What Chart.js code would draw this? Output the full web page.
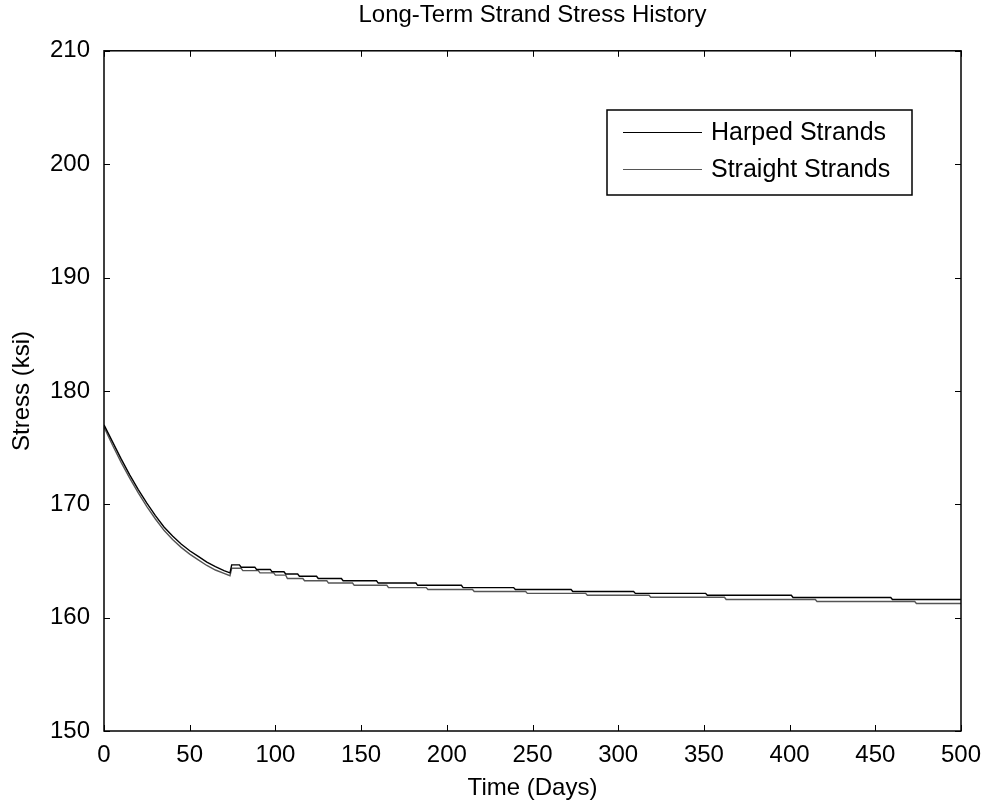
<!DOCTYPE html>
<html>
<head>
<meta charset="utf-8">
<script src="https://cdn.jsdelivr.net/npm/chart.js@4/dist/chart.umd.min.js"></script>
<style>
  html, body { margin: 0; padding: 0; background: #fff; }
  #wrap { width: 986px; height: 803px; }
</style>
</head>
<body>
<div id="wrap"><canvas id="chart" width="986" height="803"></canvas></div>
<script>
const chartTitle = 'Long-Term Strand Stress History';
const xLabel = 'Time (Days)';
const yLabel = 'Stress (ksi)';
const xTicks = [0, 50, 100, 150, 200, 250, 300, 350, 400, 450, 500];
const yTicks = [150, 160, 170, 180, 190, 200, 210];

// harped strands
const harpedDays = [0, 5, 10, 15, 20, 25, 30, 35, 40, 45, 50, 55, 60, 65, 70, 73.5, 74.5,
  79, 80, 88, 89, 97, 98, 105, 106, 113, 114, 124, 125, 138.5, 139.5, 159, 160, 182, 183,
  208.5, 209.5, 239, 240, 272.5, 273.5, 309, 310, 351, 352, 401, 402, 459, 460, 500];
const harpedStress = [177.0, 175.5, 174.0, 172.6, 171.3, 170.1, 169.0, 168.0, 167.2, 166.5, 165.9, 165.4, 164.9, 164.5, 164.15, 163.95, 164.65,
  164.65, 164.45, 164.45, 164.25, 164.25, 164.05, 164.05, 163.85, 163.85, 163.65, 163.65, 163.45, 163.45, 163.25, 163.25, 163.05, 163.05, 162.85,
  162.85, 162.65, 162.65, 162.48, 162.48, 162.3, 162.3, 162.14, 162.14, 161.97, 161.97, 161.78, 161.78, 161.6, 161.6];

// straight strands
const straightDays = [0, 5, 10, 15, 20, 25, 30, 35, 40, 45, 50, 55, 60, 65, 70, 73.5, 74.5,
  80, 81, 90, 91, 99, 100, 106, 107, 116, 117, 130, 131, 145, 146, 165, 166, 188, 189,
  215, 216, 246, 247, 281, 282, 318, 319, 362, 363, 415, 416, 473, 474, 500];
const straightStress = [176.8, 175.2, 173.7, 172.3, 171.0, 169.8, 168.7, 167.7, 166.9, 166.2, 165.6, 165.1, 164.6, 164.2, 163.9, 163.7, 164.35,
  164.35, 164.15, 164.15, 163.95, 163.95, 163.75, 163.75, 163.45, 163.45, 163.25, 163.25, 163.05, 163.05, 162.85, 162.85, 162.65, 162.65, 162.48,
  162.48, 162.3, 162.3, 162.14, 162.14, 161.97, 161.97, 161.8, 161.8, 161.6, 161.6, 161.42, 161.42, 161.25, 161.25];

const fontFamily = '"Liberation Sans", Arial, Helvetica, sans-serif';

function toPoints(xs, ys) {
  return xs.map((x, i) => ({ x: x, y: ys[i] }));
}

// matlab-style box, inward ticks and legend
const boxPlugin = {
  id: 'boxPlugin',
  afterDraw(chart) {
    const ctx = chart.ctx;
    const a = chart.chartArea;
    const xs = chart.scales.x;
    const ys = chart.scales.y;
    ctx.save();
    ctx.strokeStyle = '#000';
    ctx.lineWidth = 1.5;
    ctx.strokeRect(a.left, a.top, a.right - a.left, a.bottom - a.top);
    ctx.lineWidth = 1;
    const len = 6;
    xTicks.forEach(v => {
      const px = Math.round(xs.getPixelForValue(v)) + 0.5;
      ctx.beginPath();
      ctx.moveTo(px, a.bottom); ctx.lineTo(px, a.bottom - len);
      ctx.moveTo(px, a.top); ctx.lineTo(px, a.top + len);
      ctx.stroke();
    });
    yTicks.forEach(v => {
      const py = Math.round(ys.getPixelForValue(v)) + 0.5;
      ctx.beginPath();
      ctx.moveTo(a.left, py); ctx.lineTo(a.left + len, py);
      ctx.moveTo(a.right, py); ctx.lineTo(a.right - len, py);
      ctx.stroke();
    });

    // legend
    const lx = 607, ly = 110, lw = 305, lh = 85;
    ctx.fillStyle = '#fff';
    ctx.fillRect(lx, ly, lw, lh);
    ctx.strokeStyle = '#000';
    ctx.lineWidth = 1.5;
    ctx.strokeRect(lx, ly, lw, lh);
    ctx.font = '25px ' + fontFamily;
    ctx.textBaseline = 'middle';
    chart.data.datasets.forEach((ds, i) => {
      const y = 132 + i * 37;
      ctx.strokeStyle = ds.borderColor;
      ctx.lineWidth = 1;
      ctx.beginPath();
      ctx.moveTo(623, y + 0.5); ctx.lineTo(702, y + 0.5);
      ctx.stroke();
      ctx.fillStyle = '#000';
      ctx.fillText(ds.label, 711, y + 1);
    });
    ctx.restore();
  }
};

new Chart(document.getElementById('chart'), {
  type: 'line',
  data: {
    datasets: [
      {
        label: 'Harped Strands',
        data: toPoints(harpedDays, harpedStress),
        borderColor: '#000000',
        borderWidth: 1.4,
        pointRadius: 0,
        tension: 0
      },
      {
        label: 'Straight Strands',
        data: toPoints(straightDays, straightStress),
        borderColor: '#555555',
        borderWidth: 1.4,
        pointRadius: 0,
        tension: 0
      }
    ]
  },
  options: {
    responsive: false,
    animation: false,
    layout: { padding: { left: 0, right: 25, top: 0, bottom: 0 } },
    plugins: {
      legend: { display: false },
      tooltip: { enabled: false },
      title: {
        display: true,
        fullSize: false,
        text: chartTitle,
        color: '#000',
        font: { family: fontFamily, size: 24, weight: 'normal', lineHeight: 1.2 },
        padding: { top: 1, bottom: 21 }
      }
    },
    scales: {
      x: {
        type: 'linear',
        min: 0,
        max: 500,
        afterBuildTicks: s => { s.ticks = xTicks.map(v => ({ value: v })); },
        afterFit: s => { s.height = 72; },
        grid: { display: false },
        border: { display: false },
        ticks: { color: '#000', font: { family: fontFamily, size: 24 }, padding: 2, maxRotation: 0 },
        title: {
          display: true,
          text: xLabel,
          color: '#000',
          font: { family: fontFamily, size: 24 },
          padding: { top: 0, bottom: 0 }
        }
      },
      y: {
        type: 'linear',
        min: 150,
        max: 210,
        afterBuildTicks: s => { s.ticks = yTicks.map(v => ({ value: v })); },
        afterFit: s => { s.width = 104; },
        grid: { display: false },
        border: { display: false },
        ticks: { color: '#000', font: { family: fontFamily, size: 24 }, padding: 6 },
        title: {
          display: true,
          text: yLabel,
          color: '#000',
          font: { family: fontFamily, size: 24 },
          padding: { top: 8, bottom: 0 }
        }
      }
    }
  },
  plugins: [boxPlugin]
});
</script>
</body>
</html>
